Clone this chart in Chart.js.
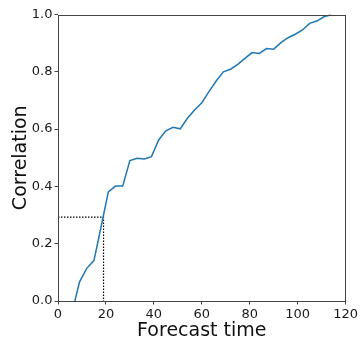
<!DOCTYPE html>
<html>
<head>
<meta charset="utf-8">
<script src="https://cdn.jsdelivr.net/npm/chart.js@4/dist/chart.umd.min.js"></script>
<style>
html,body{margin:0;padding:0;background:#fff;}
#wrap{width:360px;height:339px;position:relative;}
</style>
</head>
<body>
<div id="wrap"><canvas id="c" width="360" height="339"></canvas></div>
<script>
const forecastTime = [6,9,12,15,18,21,24,27,30,33,36,39,42,45,48,51,54,57,60,63,66,69,72,75,78,81,84,87,90,93,96,99,102,105,108,111,114];
const correlation = [-0.035,0.067,0.114,0.141,0.26,0.381,0.401,0.401,0.490,0.498,0.496,0.504,0.562,0.594,0.606,0.601,0.638,0.667,0.692,0.731,0.768,0.800,0.809,0.826,0.847,0.867,0.864,0.881,0.879,0.902,0.919,0.931,0.946,0.969,0.977,0.992,0.999];
const guideX = [0, 19, 19];
const guideY = [0.293, 0.293, 0];
const xTicks = [0,20,40,60,80,100,120];
const yTicks = [0,0.2,0.4,0.6,0.8,1.0];

const frame = {
  id: 'frame',
  afterDraw(chart) {
    const a = chart.chartArea, ctx = chart.ctx;
    ctx.save();
    ctx.strokeStyle = '#444';
    ctx.lineWidth = 1;
    ctx.strokeRect(Math.round(a.left)+0.5, Math.round(a.top)+0.5, Math.round(a.right-a.left)-1, Math.round(a.bottom-a.top)-1);
    ctx.restore();
  }
};

const tickFont = {family: 'DejaVu Sans', size: 13};
const titleFont = {family: 'DejaVu Sans', size: 19, lineHeight: 1};

new Chart(document.getElementById('c'), {
  type: 'line',
  data: {
    datasets: [
      {
        data: forecastTime.map((x,i)=>({x, y: correlation[i]})),
        borderColor: '#1f77b4', borderWidth: 1.5, pointRadius: 0, tension: 0, fill: false
      },
      {
        data: guideX.map((x,i)=>({x, y: guideY[i]})),
        borderColor: '#000', borderWidth: 1.2, borderDash: [1.5,1.5], pointRadius: 0, tension: 0, fill: false
      }
    ]
  },
  options: {
    responsive: false,
    animation: false,
    devicePixelRatio: 1,
    layout: {padding: {left: 0, top: 14.5, right: 12, bottom: 0}},
    plugins: {legend: {display: false}, tooltip: {enabled: false}},
    scales: {
      x: {
        type: 'linear', min: 0, max: 120,
        afterBuildTicks: s => { s.ticks = xTicks.map(v=>({value:v})); },
        afterFit: s => { s.height = 38; },
        grid: {drawOnChartArea: false, drawTicks: true, tickLength: 3.5, tickColor: '#444'},
        border: {display: false},
        ticks: {font: tickFont, color: '#1a1a1a', padding: 2, maxRotation: 0, callback: v => String(v)},
        title: {display: true, text: 'Forecast time', font: titleFont, color: '#111', padding: {top: 0, bottom: -1.5}}
      },
      y: {
        type: 'linear', min: 0, max: 1,
        afterBuildTicks: s => { s.ticks = yTicks.map(v=>({value:v})); },
        afterFit: s => { s.width = 58; },
        grid: {drawOnChartArea: false, drawTicks: true, tickLength: 3.5, tickColor: '#444'},
        border: {display: false},
        ticks: {font: tickFont, color: '#1a1a1a', padding: 2, callback: v => v.toFixed(1)},
        title: {display: true, text: 'Correlation', font: titleFont, color: '#111', padding: {top: 12, bottom: 0}}
      }
    }
  },
  plugins: [frame]
});
</script>
</body>
</html>
